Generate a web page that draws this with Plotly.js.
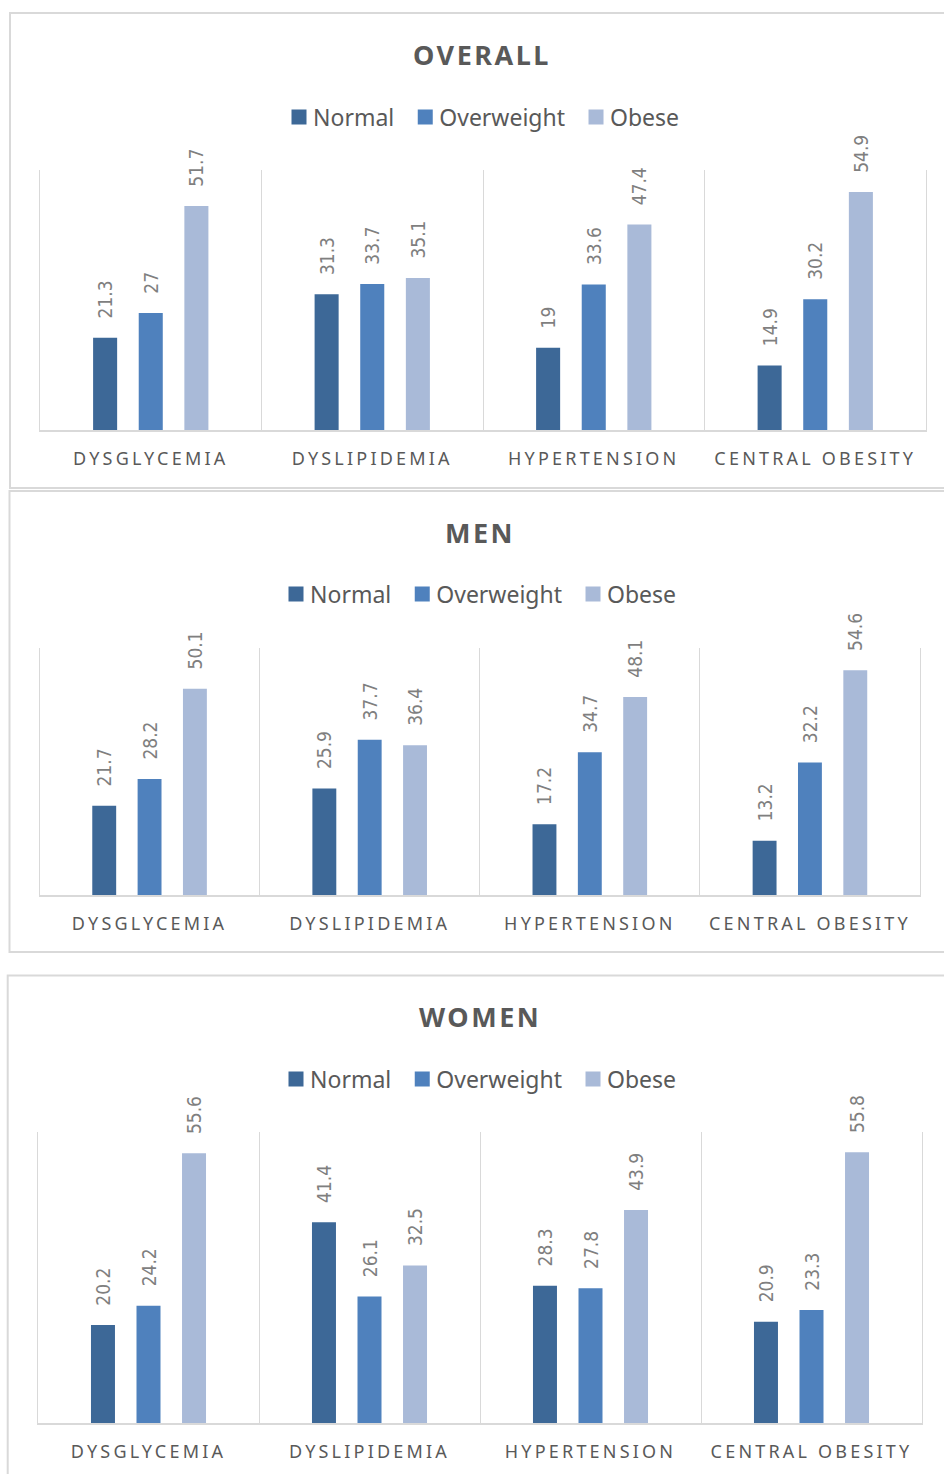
<!DOCTYPE html>
<html>
<head>
<meta charset="utf-8">
<script src="https://cdn.plot.ly/plotly-3.0.1.min.js"></script>
<style>
  html, body { margin: 0; padding: 0; background: #ffffff; }
  #chart { width: 944px; height: 1474px; }
  /* spaced-out capitals for the category names and panel headings */
  .xaxislayer-above text { letter-spacing: 3.2px; }
  .annotation-text { letter-spacing: 2.5px; }
  /* larger legend swatches, sitting close to their labels */
  .legendpoints path { transform: translate(26px, 0px) scale(1.25); }
</style>
</head>
<body>
<div id="chart"></div>
<script>
// Prevalence (%) of each condition by BMI group
const categories = ['DYSGLYCEMIA', 'DYSLIPIDEMIA', 'HYPERTENSION', 'CENTRAL OBESITY'];
const groups = ['Normal', 'Overweight', 'Obese'];

const overallNormal = [21.3, 31.3, 19, 14.9];
const overallOverweight = [27, 33.7, 33.6, 30.2];
const overallObese = [51.7, 35.1, 47.4, 54.9];

const menNormal = [21.7, 25.9, 17.2, 13.2];
const menOverweight = [28.2, 37.7, 34.7, 32.2];
const menObese = [50.1, 36.4, 48.1, 54.6];

const womenNormal = [20.2, 41.4, 28.3, 20.9];
const womenOverweight = [24.2, 26.1, 27.8, 23.3];
const womenObese = [55.6, 32.5, 43.9, 55.8];

const panelTitles = ['OVERALL', 'MEN', 'WOMEN'];

const colors = ['#3D6897', '#4F81BD', '#A9BAD8'];
const textGray = '#595959';
const lineGray = '#D9D9D9';
const W = 944, H = 1474;
const px = v => v / W;
const py = v => 1 - v / H;

const labelFont = {
  family: '"Liberation Sans Narrow", "Arial Narrow", "DejaVu Sans Condensed", sans-serif',
  size: 19, color: '#7F7F7F'
};
const uiFont = '"Noto Sans", "Open Sans", sans-serif';

const panels = [
  { series: [overallNormal, overallOverweight, overallObese], x: [40, 926], y: [430, 170],
    box: [10, 13, 960, 488], title: 482, titleY: 55, legX: 479, legY: 117 },
  { series: [menNormal, menOverweight, menObese], x: [39.5, 920], y: [895, 648],
    box: [9.5, 491, 960, 952], title: 480, titleY: 532, legX: 476, legY: 594 },
  { series: [womenNormal, womenOverweight, womenObese], x: [38, 922], y: [1423, 1132],
    box: [7.7, 975.5, 960, 1500], title: 480, titleY: 1016, legX: 476, legY: 1079 }
];

const traces = [];
const layout = {
  width: W, height: H,
  margin: { l: 0, r: 0, t: 0, b: 0 },
  paper_bgcolor: '#ffffff', plot_bgcolor: 'rgba(0,0,0,0)',
  barmode: 'group', bargap: 0.382, bargroupgap: 0.473,
  font: { family: uiFont, color: textGray },
  shapes: [], annotations: []
};

panels.forEach((p, i) => {
  const n = i === 0 ? '' : String(i + 1);
  const legendName = 'legend' + n;
  p.series.forEach((vals, g) => {
    traces.push({
      type: 'bar', name: groups[g], x: categories, y: vals,
      xaxis: 'x' + n, yaxis: 'y' + n, legend: legendName,
      marker: { color: colors[g], line: { width: 0 } },
      texttemplate: '\u00a0\u00a0\u00a0%{y}', textposition: 'outside',
      textangle: -90, textfont: labelFont, constraintext: 'none',
      cliponaxis: false, hoverinfo: 'skip'
    });
  });
  layout['xaxis' + n] = {
    domain: [px(p.x[0]), px(p.x[1])], anchor: 'y' + n,
    type: 'category', tickson: 'boundaries', ticks: '', tickangle: 0,
    showgrid: true, gridcolor: lineGray, gridwidth: 1,
    showline: true, linecolor: lineGray, linewidth: 2,
    ticklabelstandoff: 11,
    tickfont: { family: uiFont, size: 18, color: textGray },
    fixedrange: true
  };
  layout['yaxis' + n] = {
    domain: [py(p.y[0]), py(p.y[1])], anchor: 'x' + n,
    range: [0, 60], showgrid: false, zeroline: false, showticklabels: false,
    ticks: '', showline: true, mirror: true, linecolor: lineGray, linewidth: 1,
    fixedrange: true
  };
  layout[legendName] = {
    orientation: 'h', x: px(p.legX), y: py(p.legY),
    xanchor: 'center', yanchor: 'middle',
    font: { family: uiFont, size: 23, color: textGray },
    bgcolor: 'rgba(0,0,0,0)', itemclick: false, itemdoubleclick: false,
    traceorder: 'normal'
  };
  layout.shapes.push({
    type: 'rect', xref: 'paper', yref: 'paper', layer: 'below',
    x0: px(p.box[0]), x1: px(p.box[2]), y0: py(p.box[3]), y1: py(p.box[1]),
    line: { color: lineGray, width: 2 }, fillcolor: 'rgba(0,0,0,0)'
  });
  layout.annotations.push({
    text: '<b>' + panelTitles[i] + '</b>', xref: 'paper', yref: 'paper',
    x: px(p.title), y: py(p.titleY), xanchor: 'center', yanchor: 'middle',
    showarrow: false, font: { family: uiFont, size: 27, color: textGray }
  });
});

Plotly.newPlot('chart', traces, layout, { staticPlot: true, displayModeBar: false });
</script>
</body>
</html>
